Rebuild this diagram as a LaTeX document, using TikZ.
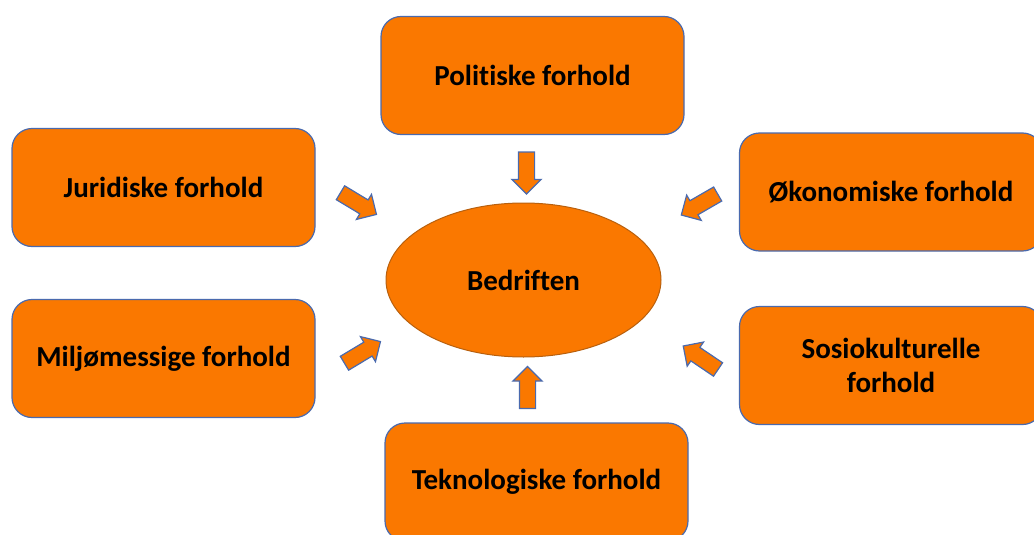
\documentclass[tikz,border=0pt]{standalone}
\usepackage{fontspec}
\setmainfont[Ligatures=NoCommon]{Carlito}
\usepackage{tikz}
\usetikzlibrary{shapes.geometric,shapes.arrows}
\definecolor{orng}{HTML}{FA7800}
\definecolor{edge}{HTML}{4A6AAE}
\definecolor{rim}{HTML}{B8600E}
\tikzset{
  fbox/.style={draw=edge,fill=orng,rounded corners=20pt,line width=1.2pt,minimum width=303pt,minimum height=118pt,align=center,font=\fontsize{29}{34}\selectfont\bfseries},
  core/.style={ellipse,draw=rim,fill=orng,line width=1pt,minimum width=275pt,minimum height=154pt,inner sep=0pt,font=\fontsize{29}{34}\selectfont\bfseries},
  push/.style={single arrow,draw=edge,fill=orng,line width=1.2pt,inner sep=7.5pt,minimum height=42pt,single arrow head extend=6.5pt},
}
\begin{document}
\begin{tikzpicture}[x=1pt,y=-1pt]
\useasboundingbox (0,0) rectangle (1034,535);
\clip (0,0) rectangle (1034,535);
% centre
\node[core] (bed) at (523.5,280) {Bedriften};
% surrounding factors
\node[fbox] (pol) at (532.5,75.5) {Politiske forhold};
\node[fbox] (jur) at (163.5,187.5) {Juridiske forhold};
\node[fbox] (oko) at (891,192) {Økonomiske forhold};
\node[fbox] (mil) at (163.5,358.5) {Miljømessige forhold};
\node[fbox] (sos) at (891,365.5) {Sosiokulturelle\\forhold};
\node[fbox] (tek) at (536.5,482) {Teknologiske forhold};
% block arrows towards the centre
\node[push,rotate=-90] (apol) at (526.5,169) {};
\node[push,rotate=-31] (ajur) at (355,201.5) {};
\node[push,rotate=-150] (aoko) at (703,202.5) {};
\node[push,rotate=31] (amil) at (359,354.5) {};
\node[push,rotate=146] (asos) at (704,360) {};
\node[push,rotate=90] (atek) at (527.5,391.5) {};
\end{tikzpicture}
\end{document}
